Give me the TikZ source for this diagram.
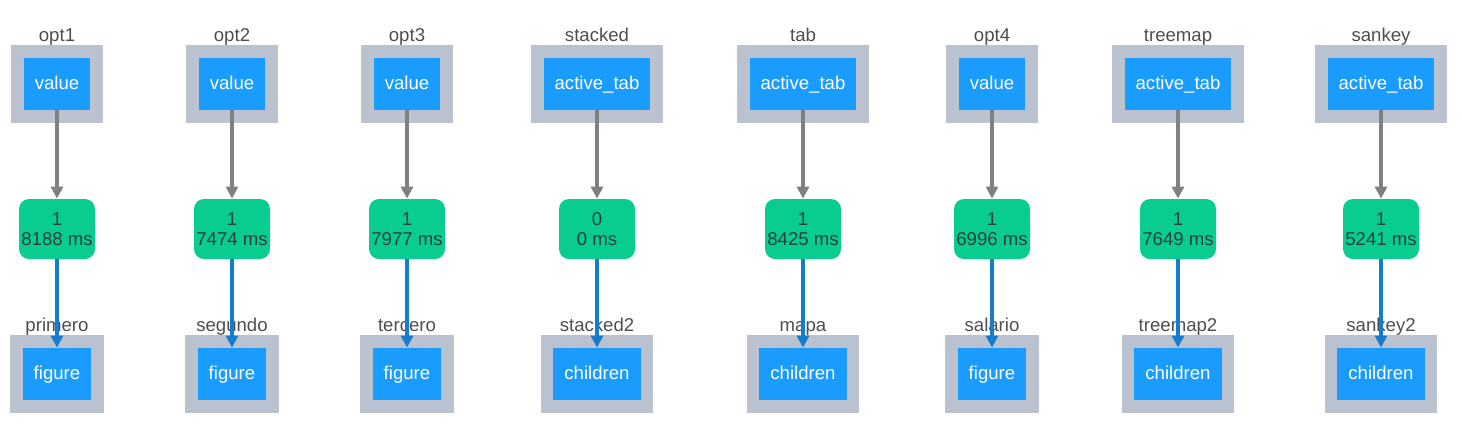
\documentclass[tikz,border=0pt]{standalone}
\usepackage{fontspec}
\setmainfont{Liberation Sans}
\usetikzlibrary{arrows.meta,fit,backgrounds}
\definecolor{boxgray}{RGB}{186,194,208}
\definecolor{propblue}{RGB}{26,156,255}
\definecolor{cbgreen}{RGB}{8,204,144}
\definecolor{cbtext}{RGB}{40,66,56}
\definecolor{labgray}{RGB}{78,78,78}
\definecolor{wireblue}{RGB}{22,124,206}
\definecolor{wiregray}{RGB}{128,128,128}
\begin{document}
\begin{tikzpicture}[x=0.5pt,y=-0.5pt,
    every node/.style={font=\fontsize{9.3}{9.8}\selectfont},
    prop/.style={fill=propblue,text=white,minimum height=26pt,text height=7pt,text depth=2pt,inner xsep=5.5pt,inner ysep=0pt},
    comp/.style={fill=boxgray,inner sep=6.25pt,label={[labgray,text height=7pt,text depth=2pt,inner sep=0pt,label distance=-0.5pt]above:#1}},
    cb/.style={fill=cbgreen,text=cbtext,rounded corners=5pt,align=center,minimum width=38pt,minimum height=30pt,inner xsep=1pt},
    inwire/.style={wiregray,line width=1.6pt,-{Triangle[length=6pt,width=6pt]}},
    outwire/.style={wireblue,line width=1.6pt,-{Triangle[length=6pt,width=6pt]}}]
  \useasboundingbox (0,0) rectangle (1462,441);
  % inputs
  \node[prop] (s1) at (57,84) {value};
  \node[prop] (s2) at (232,84) {value};
  \node[prop] (s3) at (407,84) {value};
  \node[prop] (s4) at (597,84) {active\_tab};
  \node[prop] (s5) at (803,84) {active\_tab};
  \node[prop] (s6) at (992,84) {value};
  \node[prop] (s7) at (1178,84) {active\_tab};
  \node[prop] (s8) at (1381,84) {active\_tab};
  % callbacks
  \node[cb] (cb1) at (57,229) {1\\8188 ms};
  \node[cb] (cb2) at (232,229) {1\\7474 ms};
  \node[cb] (cb3) at (407,229) {1\\7977 ms};
  \node[cb] (cb4) at (597,229) {0\\0 ms};
  \node[cb] (cb5) at (803,229) {1\\8425 ms};
  \node[cb] (cb6) at (992,229) {1\\6996 ms};
  \node[cb] (cb7) at (1178,229) {1\\7649 ms};
  \node[cb] (cb8) at (1381,229) {1\\5241 ms};
  % outputs
  \node[prop] (d1) at (57,374) {figure};
  \node[prop] (d2) at (232,374) {figure};
  \node[prop] (d3) at (407,374) {figure};
  \node[prop] (d4) at (597,374) {children};
  \node[prop] (d5) at (803,374) {children};
  \node[prop] (d6) at (992,374) {figure};
  \node[prop] (d7) at (1178,374) {children};
  \node[prop] (d8) at (1381,374) {children};
  \begin{scope}[on background layer]
    \node[comp=opt1,fit=(s1)] (S1) {};
    \node[comp=opt2,fit=(s2)] (S2) {};
    \node[comp=opt3,fit=(s3)] (S3) {};
    \node[comp=stacked,fit=(s4)] (S4) {};
    \node[comp=tab,fit=(s5)] (S5) {};
    \node[comp=opt4,fit=(s6)] (S6) {};
    \node[comp=treemap,fit=(s7)] (S7) {};
    \node[comp=sankey,fit=(s8)] (S8) {};
    \node[comp=primero,fit=(d1)] (D1) {};
    \node[comp=segundo,fit=(d2)] (D2) {};
    \node[comp=tercero,fit=(d3)] (D3) {};
    \node[comp=stacked2,fit=(d4)] (D4) {};
    \node[comp=mapa,fit=(d5)] (D5) {};
    \node[comp=salario,fit=(d6)] (D6) {};
    \node[comp=treemap2,fit=(d7)] (D7) {};
    \node[comp=sankey2,fit=(d8)] (D8) {};
  \end{scope}
  \draw[inwire] (s1) -- (cb1);
  \draw[inwire] (s2) -- (cb2);
  \draw[inwire] (s3) -- (cb3);
  \draw[inwire] (s4) -- (cb4);
  \draw[inwire] (s5) -- (cb5);
  \draw[inwire] (s6) -- (cb6);
  \draw[inwire] (s7) -- (cb7);
  \draw[inwire] (s8) -- (cb8);
  \draw[outwire] (cb1) -- (d1);
  \draw[outwire] (cb2) -- (d2);
  \draw[outwire] (cb3) -- (d3);
  \draw[outwire] (cb4) -- (d4);
  \draw[outwire] (cb5) -- (d5);
  \draw[outwire] (cb6) -- (d6);
  \draw[outwire] (cb7) -- (d7);
  \draw[outwire] (cb8) -- (d8);
\end{tikzpicture}
\end{document}
